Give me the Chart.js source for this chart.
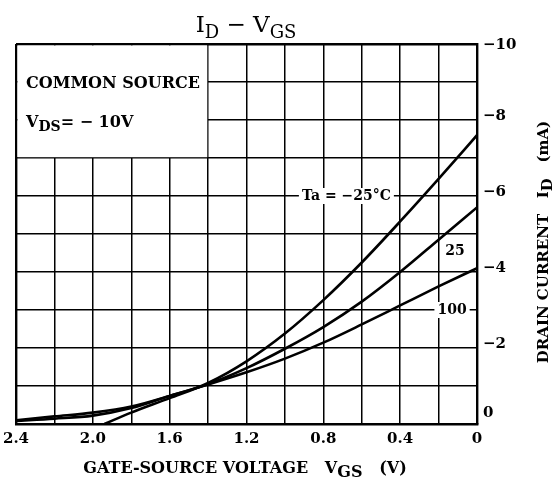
<!DOCTYPE html>
<html>
<head>
<meta charset="utf-8">
<script src="https://cdn.jsdelivr.net/npm/chart.js"></script>
<style>
  html, body { margin: 0; padding: 0; background: #fff; }
  canvas { display: block; }
</style>
</head>
<body>
<canvas id="idVgsChart" width="554" height="488"></canvas>
<script>
const vgsCold = [1.94, 1.8, 1.6, 1.4, 1.2, 1.0, 0.8, 0.6, 0.4, 0.2, 0];
const idCold  = [0, -0.3, -0.68, -1.08, -1.65, -2.38, -3.26, -4.25, -5.33, -6.45, -7.6];

const vgs     = [2.4, 2.2, 2.0, 1.8, 1.6, 1.4, 1.2, 1.0, 0.8, 0.6, 0.4, 0.2, 0];
const idRoom  = [-0.1, -0.2, -0.3, -0.46, -0.74, -1.05, -1.47, -1.98, -2.55, -3.22, -4.0, -4.85, -5.7];
const idHot   = [-0.08, -0.14, -0.22, -0.42, -0.74, -1.04, -1.36, -1.72, -2.14, -2.62, -3.12, -3.62, -4.1];

const xTickLabels = [2.4, 2.0, 1.6, 1.2, 0.8, 0.4, 0];
const yTickLabels = [-10, -8, -6, -4, -2, 0];

const SERIF = '"DejaVu Serif", "Liberation Serif", serif';

function toPoints(xs, ys) {
    return xs.map(function(v, i) { return { x: v, y: ys[i] }; });
}

// Texto con subindices: parts = [[texto, esSub], ...]
function drawParts(ctx, parts, x, y, size, subSize, weight) {
    let cx = x;
    parts.forEach(function(p) {
        const sub = p[1];
        ctx.font = weight + ' ' + (sub ? subSize : size) + 'px ' + SERIF;
        ctx.fillText(p[0], cx, sub ? y + size * 0.28 : y);
        cx += ctx.measureText(p[0]).width;
    });
    return cx - x;
}
function measureParts(ctx, parts, size, subSize, weight) {
    let w = 0;
    parts.forEach(function(p) {
        ctx.font = weight + ' ' + (p[1] ? subSize : size) + 'px ' + SERIF;
        w += ctx.measureText(p[0]).width;
    });
    return w;
}

function whiteLabel(ctx, text, x, y, font) {
    ctx.font = font;
    const w = ctx.measureText(text).width;
    ctx.fillStyle = '#fff';
    ctx.fillRect(x - w / 2 - 3, y - 8, w + 6, 16);
    ctx.fillStyle = '#000';
    ctx.textAlign = 'center';
    ctx.textBaseline = 'middle';
    ctx.fillText(text, x, y);
}

const paperPlugin = {
    id: 'paper',
    beforeDraw(chart) {
        const ctx = chart.ctx;
        ctx.save();
        ctx.fillStyle = '#fff';
        ctx.fillRect(0, 0, chart.width, chart.height);
        ctx.restore();
    },
    beforeDatasetsDraw(chart) {
        // Recuadro blanco de condiciones arriba a la izquierda
        const ctx = chart.ctx, xs = chart.scales.x, ys = chart.scales.y;
        const x1 = xs.getPixelForValue(2.4), x2 = xs.getPixelForValue(1.4);
        const y1 = ys.getPixelForValue(-10), y2 = ys.getPixelForValue(-7);
        ctx.save();
        ctx.fillStyle = '#fff';
        ctx.fillRect(x1 + 1.5, y1 + 1.5, x2 - x1 - 2.3, y2 - y1 - 2.3);
        ctx.fillStyle = '#000';
        ctx.textAlign = 'left';
        ctx.textBaseline = 'alphabetic';
        ctx.font = 'bold 16px ' + SERIF;
        ctx.fillText('COMMON SOURCE', 26, 88);
        drawParts(ctx, [['V', false], ['DS', true], ['= \u2212 10V', false]], 26, 127, 16, 14, 'bold');
        ctx.restore();
    },
    afterDatasetsDraw(chart) {
        const ctx = chart.ctx, xs = chart.scales.x, ys = chart.scales.y;
        ctx.save();
        const f = 'bold 14px ' + SERIF;
        whiteLabel(ctx, 'Ta = \u221225\u00b0C', xs.getPixelForValue(0.68), ys.getPixelForValue(-6), f);
        whiteLabel(ctx, '25', xs.getPixelForValue(0.115), ys.getPixelForValue(-4.55), f);
        whiteLabel(ctx, '100', xs.getPixelForValue(0.13), ys.getPixelForValue(-3), f);
        ctx.restore();
    },
    afterDraw(chart) {
        const ctx = chart.ctx, xs = chart.scales.x, ys = chart.scales.y;
        const area = chart.chartArea;
        ctx.save();
        ctx.fillStyle = '#000';

        // Etiquetas del eje X
        ctx.font = 'bold 15px ' + SERIF;
        ctx.textAlign = 'center';
        ctx.textBaseline = 'middle';
        xTickLabels.forEach(function(v) {
            ctx.fillText(v === 0 ? '0' : v.toFixed(1), xs.getPixelForValue(v), area.bottom + 15);
        });

        // Etiquetas del eje Y (derecha)
        ctx.textAlign = 'left';
        yTickLabels.forEach(function(v) {
            let y = ys.getPixelForValue(v) - 4;
            if (v === -10) y += 5;
            if (v === 0) y -= 7;
            ctx.fillText(v === 0 ? '0' : '\u2212' + Math.abs(v), area.right + 6, y);
        });

        // Titulo
        ctx.textBaseline = 'alphabetic';
        const title = [['I', false], ['D', true], [' \u2212 ', false], ['V', false], ['GS', true]];
        const tw = measureParts(ctx, title, 23, 18, 'normal');
        drawParts(ctx, title, 246 - tw / 2, 32, 23, 18, 'normal');

        // Titulo del eje X
        const xt = [['GATE-SOURCE VOLTAGE   V', false], ['GS', true], ['   (V)', false]];
        const xw = measureParts(ctx, xt, 16, 16, 'bold');
        drawParts(ctx, xt, 245 - xw / 2, 473, 16, 16, 'bold');

        // Titulo del eje Y (vertical)
        ctx.translate(550, 242);
        ctx.rotate(-Math.PI / 2);
        const yt = [['DRAIN CURRENT   I', false], ['D', true], ['   (mA)', false]];
        const yw = measureParts(ctx, yt, 15, 15, 'bold');
        drawParts(ctx, yt, -yw / 2, -2, 15, 15, 'bold');
        ctx.restore();
    }
};

document.addEventListener('DOMContentLoaded', function() {
    const lineStyle = {
        borderColor: '#000',
        borderWidth: 2.6,
        pointRadius: 0,
        fill: false,
        cubicInterpolationMode: 'monotone'
    };

    const data = {
        datasets: [
            Object.assign({ label: 'Ta = -25', data: toPoints(vgsCold, idCold) }, lineStyle),
            Object.assign({ label: 'Ta = 25', data: toPoints(vgs, idRoom) }, lineStyle),
            Object.assign({ label: 'Ta = 100', data: toPoints(vgs, idHot) }, lineStyle)
        ]
    };

    new Chart(document.getElementById('idVgsChart'), {
        type: 'line',
        data: data,
        options: {
            responsive: false,
            animation: false,
            layout: { padding: { left: 16, top: 44, right: 77, bottom: 64 } },
            plugins: {
                legend: { display: false },
                tooltip: { enabled: false }
            },
            scales: {
                x: {
                    type: 'linear',
                    reverse: true,
                    min: 0,
                    max: 2.4,
                    ticks: { display: false, stepSize: 0.2 },
                    grid: {
                        color: '#000',
                        drawTicks: false,
                        lineWidth: function(c) {
                            return Math.abs(c.tick.value - 2.4) < 1e-6 ? 2.4 : 1.5;
                        }
                    },
                    border: { color: '#000', width: 2.4 }
                },
                y: {
                    position: 'right',
                    reverse: true,
                    min: -10,
                    max: 0,
                    ticks: { display: false, stepSize: 1 },
                    grid: {
                        color: '#000',
                        drawTicks: false,
                        lineWidth: function(c) {
                            return c.tick.value === -10 ? 2.4 : 1.5;
                        }
                    },
                    border: { color: '#000', width: 2.4 }
                }
            }
        },
        plugins: [paperPlugin]
    });
});
</script>
</body>
</html>
